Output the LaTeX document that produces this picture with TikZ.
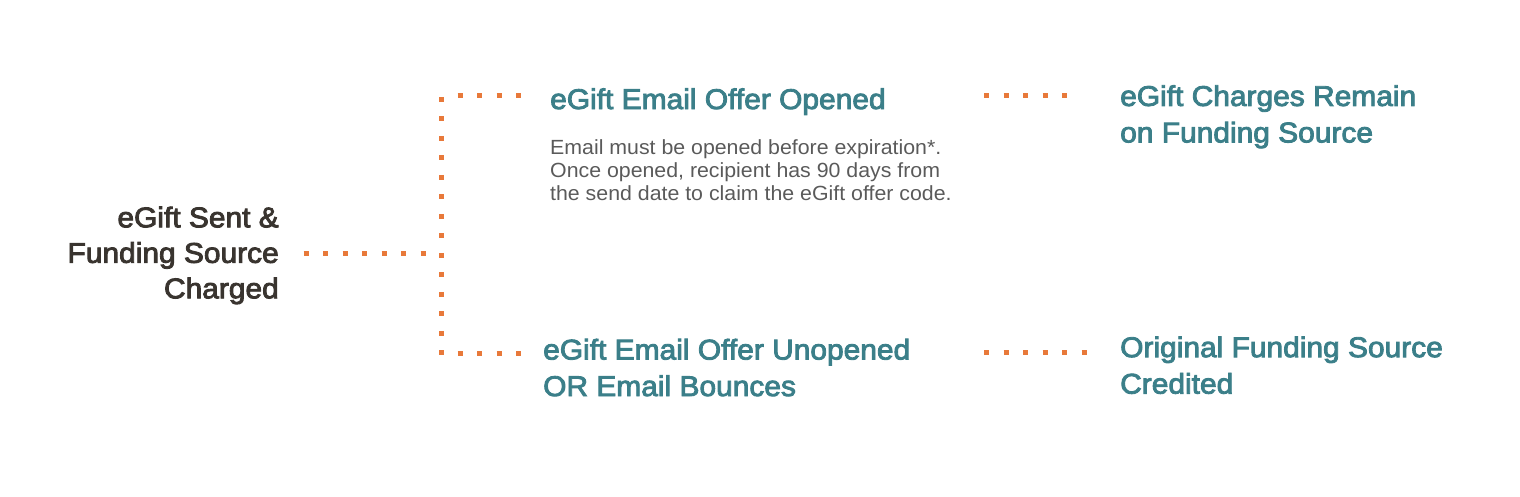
\documentclass[tikz,border=0pt]{standalone}
\usepackage{fontspec}
\setmainfont{Liberation Sans}
\newfontfamily\headfont{Liberation Sans}[FakeBold=3, FakeStretch=1.05]
\newfontfamily\notefont{Liberation Sans}[FakeStretch=1.04]
\definecolor{dotorange}{HTML}{E8793A}
\definecolor{headteal}{HTML}{3B7F89}
\definecolor{startgray}{HTML}{39342F}
\definecolor{notegray}{HTML}{5A5A5A}
\tikzset{
  dotrun/.style={draw=dotorange, line width=5pt, dash pattern=on 5pt off 14.5pt},
  heading/.style={anchor=base west, inner sep=0pt, align=left, text=headteal,
    font=\headfont\fontsize{28.5}{36.5}\selectfont},
  notetext/.style={anchor=base west, inner sep=0pt, align=left, text=notegray,
    font=\notefont\fontsize{20.5}{23}\selectfont}
}
\begin{document}
\begin{tikzpicture}[x=1pt, y=-1pt]

    \useasboundingbox (0, 0) rectangle (1520, 496);

    % last-line baselines
    \node [anchor=base east, inner sep=0pt, align=right, text=startgray,
      font=\headfont\fontsize{28.5}{35.5}\selectfont] (sent) at (279, 298.3)
      {eGift Sent \&\\Funding Source\\Charged};

    \node [heading] (opened) at (550, 109) {eGift Email Offer Opened};
    \node [notetext] (note) at (550, 200.5)
      {Email must be opened before expiration*.\\Once opened, recipient has 90 days from\\the send date to claim the eGift offer code.};
    \node [heading] (unopened) at (543, 396) {eGift Email Offer Unopened\\OR Email Bounces};

    \node [heading] (charges) at (1120, 142.4) {eGift Charges Remain\\on Funding Source};
    \node [heading] (credited) at (1120, 393.6) {Original Funding Source\\Credited};

    % dotted branches
    \coordinate (sentout) at (303.5, 253.3);
    \coordinate (split) at (425.5, 253.3);
    \coordinate (splittop) at (441, 96.8);
    \coordinate (splitbot) at (441, 355.8);
    \coordinate (toopened) at (457.5, 95.7);
    \coordinate (toopenedend) at (521.5, 95.7);
    \coordinate (tounopened) at (457.5, 353.3);
    \coordinate (tounopenedend) at (521.5, 353.3);
    \coordinate (tocharges) at (984.2, 95.7);
    \coordinate (tochargesend) at (1068.2, 95.7);
    \coordinate (tocredited) at (984.2, 352.3);
    \coordinate (tocreditedend) at (1087.2, 352.3);

    \draw[dotrun] (sentout) -- (split);
    \draw[dotrun] (splittop) -- (splitbot);
    \draw[dotrun] (toopened) -- (toopenedend);
    \draw[dotrun] (tounopened) -- (tounopenedend);
    \draw[dotrun] (tocharges) -- (tochargesend);
    \draw[dotrun] (tocredited) -- (tocreditedend);

\end{tikzpicture}
\end{document}
